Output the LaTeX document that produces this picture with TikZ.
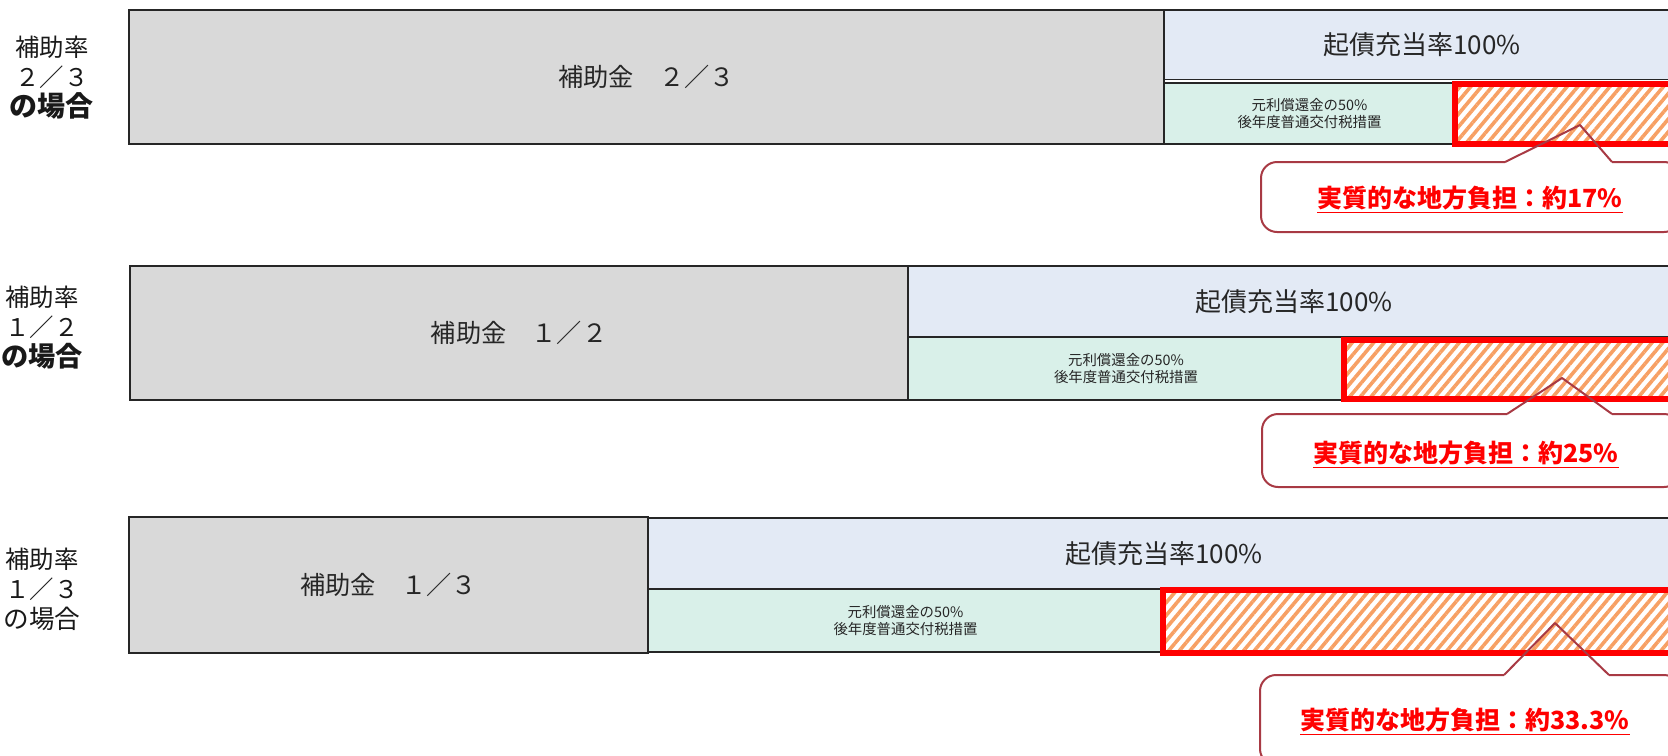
\documentclass[tikz,border=0pt]{standalone}
\usepackage{fontspec}
\setmainfont{Noto Sans CJK JP}
\usetikzlibrary{patterns.meta}
\definecolor{hojogray}{RGB}{217,217,217}
\definecolor{kisaiblue}{RGB}{227,234,245}
\definecolor{kofugreen}{RGB}{217,240,233}
\definecolor{hatchorange}{RGB}{247,160,100}
\definecolor{fukidashired}{RGB}{168,58,68}
\begin{document}
\begin{tikzpicture}[x=0.5pt,y=-0.5pt]
		\tikzstyle{box}=[draw=black!85, line width=0.8pt, inner sep=0pt, text=black!85]
		\tikzstyle{hojo}=[box, fill=hojogray, font=\fontsize{12.6}{15}\selectfont]
		\tikzstyle{kisai}=[box, fill=kisaiblue, font=\fontsize{13}{15}\selectfont]
		\tikzstyle{kofu}=[box, fill=kofugreen, align=center, font=\fontsize{7.2}{8.6}\selectfont]
		\tikzstyle{futan}=[draw=red, line width=3pt, inner sep=0pt, pattern={Lines[angle=50,distance=4.1pt,line width=1.8pt]}, pattern color=hatchorange]
		\tikzstyle{fukidashi}=[draw=fukidashired, line width=1pt, line join=round]
		\tikzstyle{fukidashi_txt}=[text=red, font=\fontsize{12.5}{15}\selectfont\bfseries]
		\tikzstyle{ritsu}=[align=center, text=black!90, font=\fontsize{12.2}{15}\selectfont]
		\useasboundingbox (0,0) rectangle (1668,755);
		\clip (0,0) rectangle (1668,755);
		% 2/3
		\node[ritsu] (ritsu1) at (52,78) {補助率\\２／３\\{\fontsize{14}{15}\selectfont\bfseries の場合}};
		\node[hojo, minimum width=517.5pt, minimum height=67pt] (hojo1) at (646.5,77) {補助金　２／３};
		\node[kisai, minimum width=258pt, minimum height=34.75pt] (kisai1) at (1422,44.75) {起債充当率100\%};
		\node[kofu, minimum width=145.5pt, minimum height=30.5pt] (kofu1) at (1309.5,113.5) {元利償還金の50\%\\後年度普通交付税措置};
		\node[futan, minimum width=117.5pt, minimum height=30pt] (futan1) at (1572.5,113.5) {};
		\draw[fukidashi, rounded corners=8pt] (1505,162) -- (1261,162) -- (1261,232) -- (1680,232) -- (1680,162) -- (1612,162);
		\draw[fukidashi] (1505,162) -- (1580,125) -- (1612,162);
		\node[fukidashi_txt] (fukidashi1) at (1470,200) {\underline{実質的な地方負担：約17\%}};
		% 1/2
		\node[ritsu] (ritsu2) at (42,328) {補助率\\１／２\\{\fontsize{13.6}{15}\selectfont\bfseries の場合}};
		\node[hojo, minimum width=389pt, minimum height=67pt] (hojo2) at (519,333) {補助金　１／２};
		\node[kisai, minimum width=386pt, minimum height=35.5pt] (kisai2) at (1294,301.5) {起債充当率100\%};
		\node[kofu, minimum width=218pt, minimum height=31.25pt] (kofu2) at (1126,368.75) {元利償還金の50\%\\後年度普通交付税措置};
		\node[futan, minimum width=173pt, minimum height=29.5pt] (futan2) at (1517,369.5) {};
		\draw[fukidashi, rounded corners=8pt] (1507,414) -- (1262,414) -- (1262,487) -- (1680,487) -- (1680,414) -- (1612,414);
		\draw[fukidashi] (1507,414) -- (1562,378) -- (1612,414);
		\node[fukidashi_txt] (fukidashi2) at (1466,455) {\underline{実質的な地方負担：約25\%}};
		% 1/3
		\node[ritsu] (ritsu3) at (42,589) {補助率\\１／３\\{\fontsize{12.8}{15}\selectfont の場合}};
		\node[hojo, minimum width=259.5pt, minimum height=68pt] (hojo3) at (388.5,585) {補助金　１／３};
		\node[kisai, minimum width=516pt, minimum height=35.5pt] (kisai3) at (1164,553.5) {起債充当率100\%};
		\node[kofu, minimum width=257.5pt, minimum height=31.5pt] (kofu3) at (905.5,620.5) {元利償還金の50\%\\後年度普通交付税措置};
		\node[futan, minimum width=263.5pt, minimum height=31.5pt] (futan3) at (1426.5,621.5) {};
		\draw[fukidashi, rounded corners=8pt] (1504,675) -- (1260,675) -- (1260,765) -- (1680,765) -- (1680,675) -- (1609,675);
		\draw[fukidashi] (1504,675) -- (1555,623) -- (1609,675);
		\node[fukidashi_txt] (fukidashi3) at (1465,722) {\underline{実質的な地方負担：約33.3\%}};
\end{tikzpicture}
\end{document}
